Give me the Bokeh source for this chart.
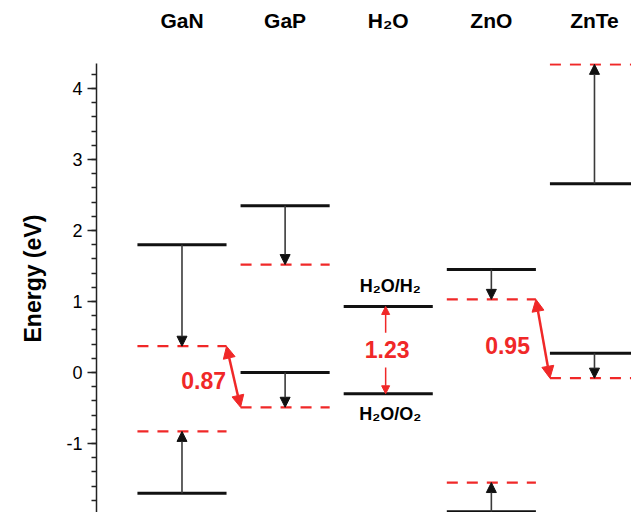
from bokeh.plotting import figure
from bokeh.models import (ColumnDataSource, Arrow, NormalHead, FixedTicker,
                          SingleIntervalTicker, Range1d, Title)
from bokeh.core.properties import value
from bokeh.embed import file_html
from bokeh.resources import INLINE

# ---------------- data ----------------
materials = ["GaN", "GaP", "H\u2082O", "ZnO", "ZnTe"]
material_pos = [0, 1, 2, 3, 4]

# solid (black) levels
solid_col = [0, 0, 1, 1, 2, 2, 3, 3, 4, 4]
solid_val = [1.80, -1.70, 2.35, 0.00, 0.93, -0.30, 1.45, -1.96, 2.66, 0.27]

# dashed (red) levels
dashed_col = [0, 0, 1, 1, 3, 3, 4, 4]
dashed_val = [0.37, -0.83, 1.52, -0.49, 1.03, -1.55, 4.34, -0.08]

# black shift arrows (solid level -> dashed level)
arrow_col = [0, 0, 1, 1, 3, 3, 4, 4]
arrow_from = [1.80, -1.70, 2.35, 0.00, 1.45, -1.96, 2.66, 0.27]
arrow_to = [0.37, -0.83, 1.52, -0.49, 1.03, -1.55, 4.34, -0.08]

# red gap annotations
gap_labels = ["0.87", "1.23", "0.95"]
gap_values_from = [0.37, 0.93, 1.03]
gap_values_to = [-0.49, -0.30, -0.08]

water_labels = ["H\u2082O/H\u2082", "H\u2082O/O\u2082"]

y_ticks = [-1, 0, 1, 2, 3, 4]
y_tick_labels = ["-1", "0", "1", "2", "3", "4"]
y_title = "Energy (eV)"

# ---------------- figure ----------------
HALF = 0.432
RED = "#f02828"
FONT = "Liberation Sans"

p = figure(width=631, height=512, output_backend="svg", toolbar_location=None,
           x_range=Range1d(-0.829, 4.359), y_range=Range1d(-1.972, 4.352),
           x_axis_location="above", min_border_left=96, min_border_right=0,
           min_border_top=63, min_border_bottom=0)
p.outline_line_color = None
p.xgrid.visible = False
p.ygrid.visible = False
p.background_fill_color = "white"
p.border_fill_color = "white"

# top axis with material names
xa = p.xaxis[0]
xa.ticker = FixedTicker(ticks=material_pos)
xa.major_label_overrides = {pos: name for pos, name in zip(material_pos, materials)}
xa.axis_line_color = None
xa.major_tick_line_color = None
xa.minor_tick_line_color = None
xa.major_label_text_font = FONT
xa.major_label_text_font_style = "bold"
xa.major_label_text_font_size = "21px"
xa.major_label_text_color = "black"
xa.major_label_standoff = 26

# left axis
ya = p.yaxis[0]
ya.ticker = SingleIntervalTicker(interval=1, num_minor_ticks=5)
ya.major_label_overrides = {t: s for t, s in zip(y_ticks, y_tick_labels)}
ya.axis_line_width = 1.5
ya.axis_line_color = "#222222"
ya.major_tick_line_width = 1.5
ya.major_tick_line_color = "#222222"
ya.minor_tick_line_width = 1.5
ya.minor_tick_line_color = "#222222"
ya.major_tick_out = 9
ya.major_tick_in = 0
ya.minor_tick_out = 5
ya.minor_tick_in = 0
ya.major_label_text_font = FONT
ya.major_label_text_font_size = "18px"
ya.major_label_text_color = "black"
ya.major_label_standoff = 5

# y-axis title as a left-side title (lets it sit a little above the centre)
p.add_layout(Title(text=y_title, align="left", offset=170, standoff=35,
                   text_font=FONT, text_font_style="bold", text_font_size="23px",
                   text_color="black"), "left")

# solid levels
solid_src = ColumnDataSource(dict(
    x0=[c - HALF for c in solid_col], x1=[c + HALF for c in solid_col],
    y=solid_val))
p.segment(x0="x0", y0="y", x1="x1", y1="y", source=solid_src,
          line_color="#111111", line_width=3)

# dashed levels
dashed_src = ColumnDataSource(dict(
    x0=[c - HALF for c in dashed_col], x1=[c + HALF for c in dashed_col],
    y=dashed_val))
p.segment(x0="x0", y0="y", x1="x1", y1="y", source=dashed_src,
          line_color=RED, line_width=2.2, line_dash="11 9")

# black arrows
arr_src = ColumnDataSource(dict(x=arrow_col, y0=arrow_from, y1=arrow_to))
p.add_layout(Arrow(x_start="x", y_start="y0", x_end="x", y_end="y1",
                   source=arr_src, line_color="#3a3a3a", line_width=1.6,
                   end=NormalHead(size=10, fill_color="#111111",
                                  line_color="#111111", line_width=1)))

# red double arrows between bands
p.add_layout(Arrow(x_start=0 + HALF, y_start=gap_values_from[0],
                   x_end=1 - HALF, y_end=gap_values_to[0],
                   line_color=RED, line_width=2.5,
                   start=NormalHead(size=12, fill_color=RED, line_color=RED),
                   end=NormalHead(size=12, fill_color=RED, line_color=RED)))
p.add_layout(Arrow(x_start=3 + HALF, y_start=gap_values_from[2],
                   x_end=4 - HALF, y_end=gap_values_to[2],
                   line_color=RED, line_width=2.5,
                   start=NormalHead(size=12, fill_color=RED, line_color=RED),
                   end=NormalHead(size=12, fill_color=RED, line_color=RED)))

# water window arrows
p.add_layout(Arrow(x_start=1.975, y_start=0.56, x_end=1.975, y_end=gap_values_from[1],
                   line_color=RED, line_width=1.5,
                   end=NormalHead(size=8, fill_color=RED, line_color=RED)))
p.add_layout(Arrow(x_start=1.975, y_start=0.07, x_end=1.975, y_end=gap_values_to[1],
                   line_color=RED, line_width=1.5,
                   end=NormalHead(size=8, fill_color=RED, line_color=RED)))

# gap labels
lab_src = ColumnDataSource(dict(x=[0.21, 1.99, 3.157], y=[-0.11, 0.32, 0.38],
                                t=gap_labels))
p.text(x="x", y="y", text="t", source=lab_src, text_color=RED,
       text_font=value(FONT), text_font_style="bold", text_font_size="23px",
       text_align="center", text_baseline="middle")

# water labels
wl_src = ColumnDataSource(dict(x=[2.02, 2.02], y=[1.225, -0.58], t=water_labels))
p.text(x="x", y="y", text="t", source=wl_src, text_color="black",
       text_font=value(FONT), text_font_style="bold", text_font_size="18px",
       text_align="center", text_baseline="middle")

open("out.html", "w").write(file_html(p, INLINE))
